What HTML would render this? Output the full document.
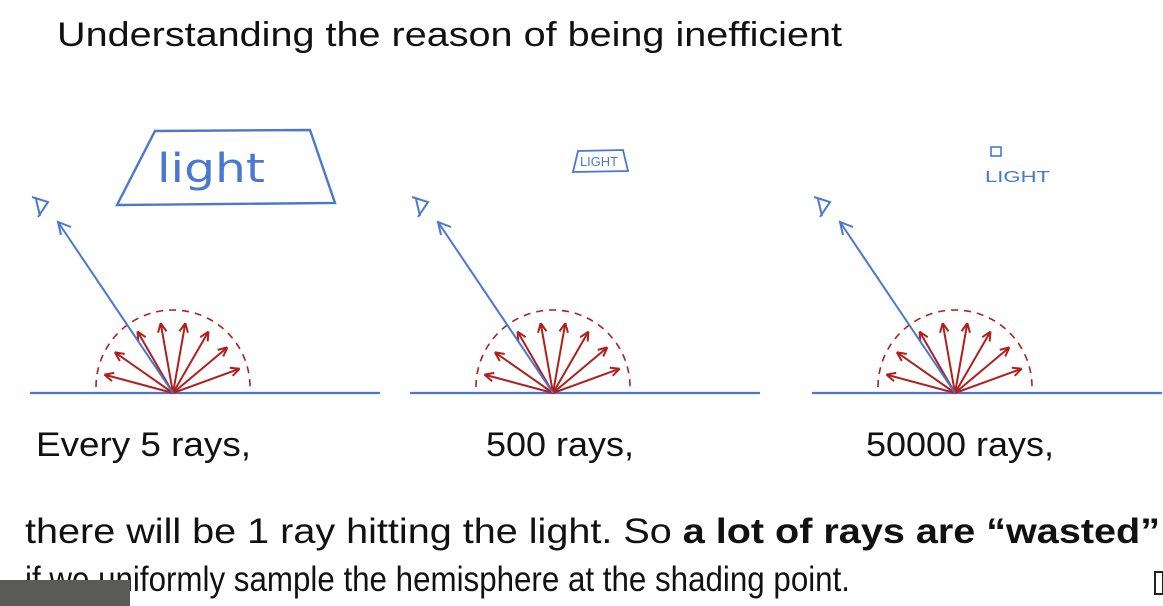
<!DOCTYPE html>
<html><head><meta charset="utf-8"><style>
html,body{margin:0;padding:0;background:#fff;width:1163px;height:606px;overflow:hidden}
svg{display:block}
text{font-family:"Liberation Sans",sans-serif;fill:#111}
</style></head><body>
<svg id="s" width="1163" height="606" viewBox="0 0 1163 606">
<text x="57" y="46" font-size="34" textLength="785" lengthAdjust="spacingAndGlyphs">Understanding the reason of being inefficient</text>
<text x="36" y="456" font-size="34" textLength="215" lengthAdjust="spacingAndGlyphs">Every 5 rays,</text>
<text x="486" y="456" font-size="34" textLength="148" lengthAdjust="spacingAndGlyphs">500 rays,</text>
<text x="866" y="456" font-size="34" textLength="188" lengthAdjust="spacingAndGlyphs">50000 rays,</text>
<text x="25" y="543" font-size="35" textLength="1135" lengthAdjust="spacingAndGlyphs">there will be 1 ray hitting the light. So <tspan font-weight="bold">a lot of rays are “wasted”</tspan></text>
<text x="25" y="591" font-size="35" textLength="825" lengthAdjust="spacingAndGlyphs">if we uniformly sample the hemisphere at the shading point.</text>
<rect x="0" y="580" width="130" height="26" fill="#5a5a58"/>
<rect x="1155" y="572" width="8" height="22" fill="none" stroke="#222" stroke-width="2"/>
<g id="d"></g>
</svg>
<script>
const offsets=[0,380,782];
const rayAngles=[165,145,120,100,80,60,40,20];
const NS="http://www.w3.org/2000/svg";
const g=document.getElementById('d');
const blue="#4a78d0",red="#b0201c";
function el(t,a,name){const e=document.createElementNS(NS,t);for(const k in a)e.setAttribute(k,a[k]);


g.appendChild(e);return e;}
offsets.forEach((o,i)=>{
 const cx=173+o,cy=393,r=77;
 el('line',{x1:30+o,y1:cy,x2:380+o,y2:cy,stroke:blue,'stroke-width':2.2},'ground-line');
 el('path',{d:`M${cx-r} ${cy-6} A${r} ${r} 0 0 1 ${cx+r} ${cy-6}`,fill:'none',stroke:red,'stroke-width':1.6,'stroke-dasharray':'7 6'},'hemisphere');
 rayAngles.forEach(a=>{
  const rad=a*Math.PI/180,L=r-6;
  const ex=cx+L*Math.cos(rad),ey=cy-L*Math.sin(rad);
  el('line',{x1:cx,y1:cy,x2:ex,y2:ey,stroke:red,'stroke-width':2},'ray');
  const h=10;
  [rad+2.7,rad-2.7].forEach(b=>el('line',{x1:ex,y1:ey,x2:ex+h*Math.cos(b),y2:ey-h*Math.sin(b),stroke:red,'stroke-width':2},'ray-head'));
 });
 const vx=58+o,vy=222;
 el('line',{x1:cx,y1:cy,x2:vx,y2:vy,stroke:blue,'stroke-width':2},'view-ray');
 el('polyline',{points:`${vx+3},${vy+13} ${vx},${vy} ${vx+13},${vy+5}`,fill:'none',stroke:blue,'stroke-width':2},'view-arrowhead');
 el('path',{d:`M${vx-26} ${vy-25} L${vx-10} ${vy-20} L${vx-20} ${vy-5} M${vx-22} ${vy-23} L${vx-18} ${vy-6}`,fill:'none',stroke:blue,'stroke-width':2},'eye-icon');
});
el('polygon',{points:"117,205 335,203 310,130 155,131",fill:'none',stroke:blue,'stroke-width':2.4},'large-light');
const t1=el('text',{x:157,y:182,'font-size':40,style:'fill:'+blue+';font-family:"DejaVu Sans",sans-serif','textLength':108,'lengthAdjust':'spacingAndGlyphs'},'large-light-label');t1.textContent='light';
el('polygon',{points:"573,172 628,171 623,150 578,151",fill:'none',stroke:blue,'stroke-width':1.8},'medium-light');
const t2=el('text',{x:580,y:166,'font-size':13,style:'fill:'+blue,'textLength':38,'lengthAdjust':'spacingAndGlyphs'},'medium-light-label');t2.textContent='LIGHT';
el('rect',{x:991,y:147,width:10,height:9,fill:'none',stroke:blue,'stroke-width':1.6},'small-light');
const t3=el('text',{x:985,y:182,'font-size':16,style:'fill:'+blue,'textLength':65,'lengthAdjust':'spacingAndGlyphs'},'small-light-label');t3.textContent='LIGHT';
</script>
</body></html>
